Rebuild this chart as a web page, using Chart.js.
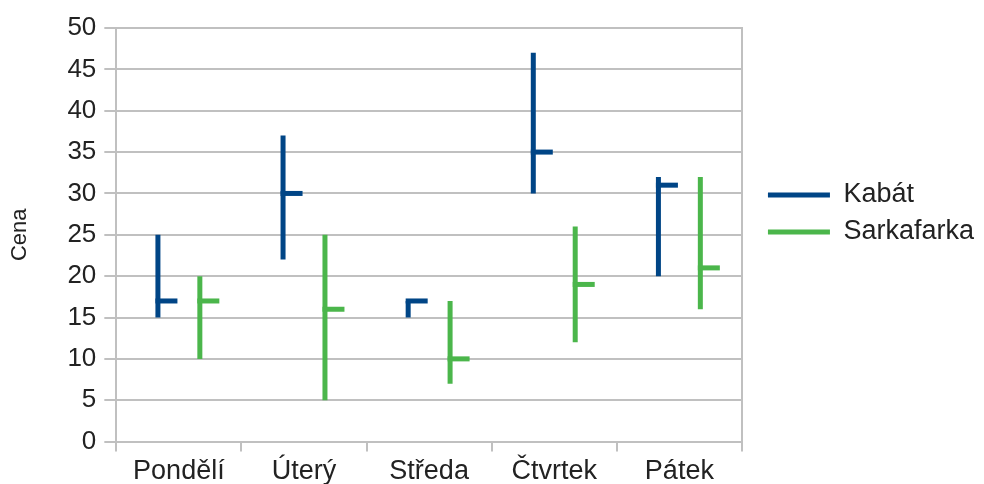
<!DOCTYPE html>
<html>
<head>
<meta charset="utf-8">
<script src="https://cdn.jsdelivr.net/npm/chart.js@4/dist/chart.umd.min.js"></script>
<style>
    html, body { margin: 0; background: #fff; overflow: hidden; }
    #obal { width: 984px; height: 492px; }
</style>
</head>
<body>
<div id="obal"><canvas id="graf"></canvas></div>
<script>
const dny = ["Pondělí", "Úterý", "Středa", "Čtvrtek", "Pátek"];

const kabatMin = [15, 22, 15, 30, 20];
const kabatMax = [25, 37, 17, 47, 32];
const kabatZaver = [17, 30, 17, 35, 31];

const sarkaMin = [10, 5, 7, 12, 16];
const sarkaMax = [20, 25, 17, 26, 32];
const sarkaZaver = [17, 16, 10, 19, 21];

const seda = "#c0c0c0";
const pismo = "'Liberation Sans', Arial, sans-serif";

// vodorovna carka zaverecne ceny vpravo od sloupce
const zaverecneCeny = {
    id: "zaverecneCeny",
    afterDatasetsDraw(chart) {
        const ctx = chart.ctx;
        const osaY = chart.scales.y;

        chart.data.datasets.forEach((ds, d) => {
            const meta = chart.getDatasetMeta(d);
            if (meta.hidden) return;

            meta.data.forEach((sloupec, i) => {
                const y = osaY.getPixelForValue(ds.zaver[i]);
                ctx.save();
                ctx.fillStyle = ds.backgroundColor;
                ctx.fillRect(sloupec.x - sloupec.width / 2, y - 2.5, 22, 5);
                ctx.restore();
            });
        });
    }
};

new Chart(document.getElementById("graf"), {
    type: "bar",
    data: {
        labels: dny,
        datasets: [{
            label: "Kabát",
            data: kabatMin.map((v, i) => [v, kabatMax[i]]),
            zaver: kabatZaver,
            backgroundColor: "#004586",
            borderWidth: 0,
            borderSkipped: false
        }, {
            label: "Sarkafarka",
            data: sarkaMin.map((v, i) => [v, sarkaMax[i]]),
            zaver: sarkaZaver,
            backgroundColor: "#4bb64b",
            borderWidth: 0,
            borderSkipped: false
        }]
    },
    options: {
        responsive: true,
        maintainAspectRatio: false,
        animation: false,
        categoryPercentage: 0.67,
        barPercentage: 0.2,
        maxBarThickness: 5,
        layout: {
            padding: { top: 28, right: 0, bottom: 0, left: 0 }
        },
        plugins: {
            tooltip: { enabled: false },
            legend: {
                position: "right",
                align: "start",
                maxWidth: 400,
                title: {
                    display: true,
                    text: "",
                    padding: { top: 0, bottom: 129 },
                    font: { size: 12 }
                },
                labels: {
                    boxWidth: 62,
                    boxHeight: 5,
                    padding: 10,
                    color: "#222",
                    font: { family: pismo, size: 27 }
                }
            }
        },
        scales: {
            x: {
                offset: true,
                grid: {
                    offset: true,
                    drawOnChartArea: false,
                    color: seda,
                    lineWidth: 2,
                    tickLength: 10
                },
                border: { color: seda, width: 2 },
                ticks: {
                    color: "#222",
                    padding: 4,
                    maxRotation: 0,
                    font: { family: pismo, size: 27 }
                }
            },
            y: {
                min: 0,
                max: 50,
                ticks: {
                    stepSize: 5,
                    color: "#222",
                    padding: 8,
                    font: { family: pismo, size: 26 }
                },
                grid: {
                    color: seda,
                    lineWidth: 2,
                    tickLength: 12
                },
                border: { color: seda, width: 2 },
                title: {
                    display: true,
                    text: "Cena",
                    color: "#222",
                    padding: { top: 7, bottom: 26 },
                    font: { family: pismo, size: 22 }
                }
            },
            y2: {
                position: "right",
                min: 0,
                max: 50,
                grid: { display: false },
                ticks: { display: false },
                border: { display: true, color: seda, width: 2 },
                afterFit(osa) {
                    osa.width = 16;
                }
            }
        }
    },
    plugins: [zaverecneCeny]
});
</script>
</body>
</html>
